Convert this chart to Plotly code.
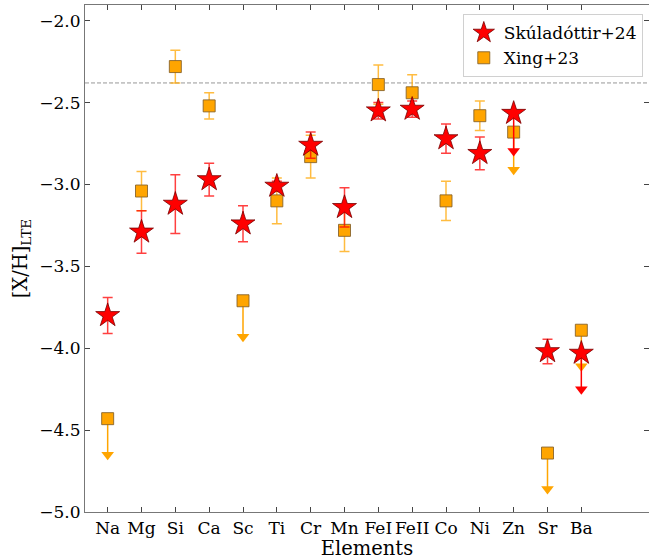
import plotly.graph_objects as go

elements = ["Na", "Mg", "Si", "Ca", "Sc", "Ti", "Cr", "Mn", "FeI", "FeII", "Co", "Ni", "Zn", "Sr", "Ba"]

# Skúladóttir+24
sk_vals = [-3.80, -3.29, -3.12, -2.97, -3.24, -3.01, -2.76, -3.14, -2.55, -2.54, -2.72, -2.81, -2.565, -4.02, -4.03]
sk_err = [0.11, 0.13, 0.18, 0.10, 0.11, 0.03, 0.08, 0.12, 0.05, 0.05, 0.09, 0.10, 0.23, 0.075, 0.22]
sk_upper = [False, False, False, False, False, False, False, False, False, False, False, False, True, False, True]

# Xing+23
xi_vals = [-4.43, -3.04, -2.28, -2.52, -3.71, -3.10, -2.83, -3.28, -2.39, -2.44, -3.10, -2.58, -2.68, -4.64, -3.89]
xi_err = [0.22, 0.12, 0.10, 0.08, 0.22, 0.14, 0.13, 0.13, 0.12, 0.11, 0.12, 0.09, 0.23, 0.22, 0.22]
xi_upper = [True, False, False, False, True, False, False, False, False, False, False, False, True, True, True]

ref_line = -2.38

FONT = "DejaVu Serif, Liberation Serif, serif"

fig = go.Figure()


def add_series(name, vals, errs, upper, color, errcolor, symbol, size, edge, rank):
    det_x = [e for e, u in zip(elements, upper) if not u]
    det_y = [v for v, u in zip(vals, upper) if not u]
    det_e = [r for r, u in zip(errs, upper) if not u]
    lim_x = [e for e, u in zip(elements, upper) if u]
    lim_y = [v for v, u in zip(vals, upper) if u]
    lim_e = [r for r, u in zip(errs, upper) if u]
    # limit lines
    fig.add_trace(go.Scatter(
        x=lim_x, y=lim_y, mode="markers", showlegend=False,
        marker=dict(symbol=symbol, size=size, color=color, line=dict(color=edge, width=1)),
        error_y=dict(type="data", symmetric=False, array=[0] * len(lim_e), arrayminus=lim_e,
                     color=color, thickness=1.5, width=0),
    ))
    # arrow heads
    fig.add_trace(go.Scatter(
        x=lim_x, y=[v - e for v, e in zip(lim_y, lim_e)], mode="markers", showlegend=False,
        marker=dict(symbol="triangle-down", size=11, color=color, line=dict(width=0)),
    ))
    # detections
    fig.add_trace(go.Scatter(
        x=det_x, y=det_y, mode="markers", name=name, legendrank=rank,
        marker=dict(symbol=symbol, size=size, color=color, line=dict(color=edge, width=1)),
        error_y=dict(type="data", array=det_e, color=errcolor, thickness=1.5, width=5),
    ))


add_series("Xing+23", xi_vals, xi_err, xi_upper, "orange", "rgba(255,165,0,0.75)",
           "square", 12, "rgba(130,95,40,0.85)", 2)
add_series("Skúladóttir+24", sk_vals, sk_err, sk_upper, "red", "rgba(255,0,0,0.75)",
           "star", 18, "rgba(120,0,0,0.8)", 1)

fig.add_shape(type="line", xref="paper", yref="y", x0=0, x1=1, y0=ref_line, y1=ref_line,
              line=dict(color="rgba(110,110,110,0.9)", width=0.8, dash="4px,2px"), layer="below")

fig.update_layout(
    width=649, height=560,
    margin=dict(l=85, r=0, t=5, b=48, autoexpand=False),
    plot_bgcolor="white", paper_bgcolor="white",
    font=dict(family=FONT, size=17, color="black"),
    legend=dict(x=0.989, y=0.982, xanchor="right", yanchor="top",
                bgcolor="rgba(255,255,255,0.9)", bordercolor="#d0d0d0", borderwidth=1,
                font=dict(family=FONT, size=17)),
    xaxis=dict(type="category", categoryorder="array", categoryarray=elements,
               range=[-0.67, 16.0], ticks="inside", ticklen=5, tickcolor="#444",
               showline=True, linecolor="#777", linewidth=1.2, mirror="ticks",
               showgrid=False, zeroline=False, tickangle=0, automargin=False,
               tickfont=dict(family=FONT, size=17),
               title=dict(text="Elements", font=dict(family=FONT, size=19.5), standoff=0)),
    yaxis=dict(range=[-5.0, -1.904], tickvals=[-5.0, -4.5, -4.0, -3.5, -3.0, -2.5, -2.0],
               tickformat=".1f", ticks="inside", ticklen=5, tickcolor="#444",
               showline=True, linecolor="#777", linewidth=1.2, mirror="ticks",
               showgrid=False, zeroline=False, automargin=False,
               tickfont=dict(family=FONT, size=17),
               title=dict(text="[X/H]<sub>LTE</sub>", font=dict(family=FONT, size=19.5), standoff=6)),
)

fig.write_html("out.html")
